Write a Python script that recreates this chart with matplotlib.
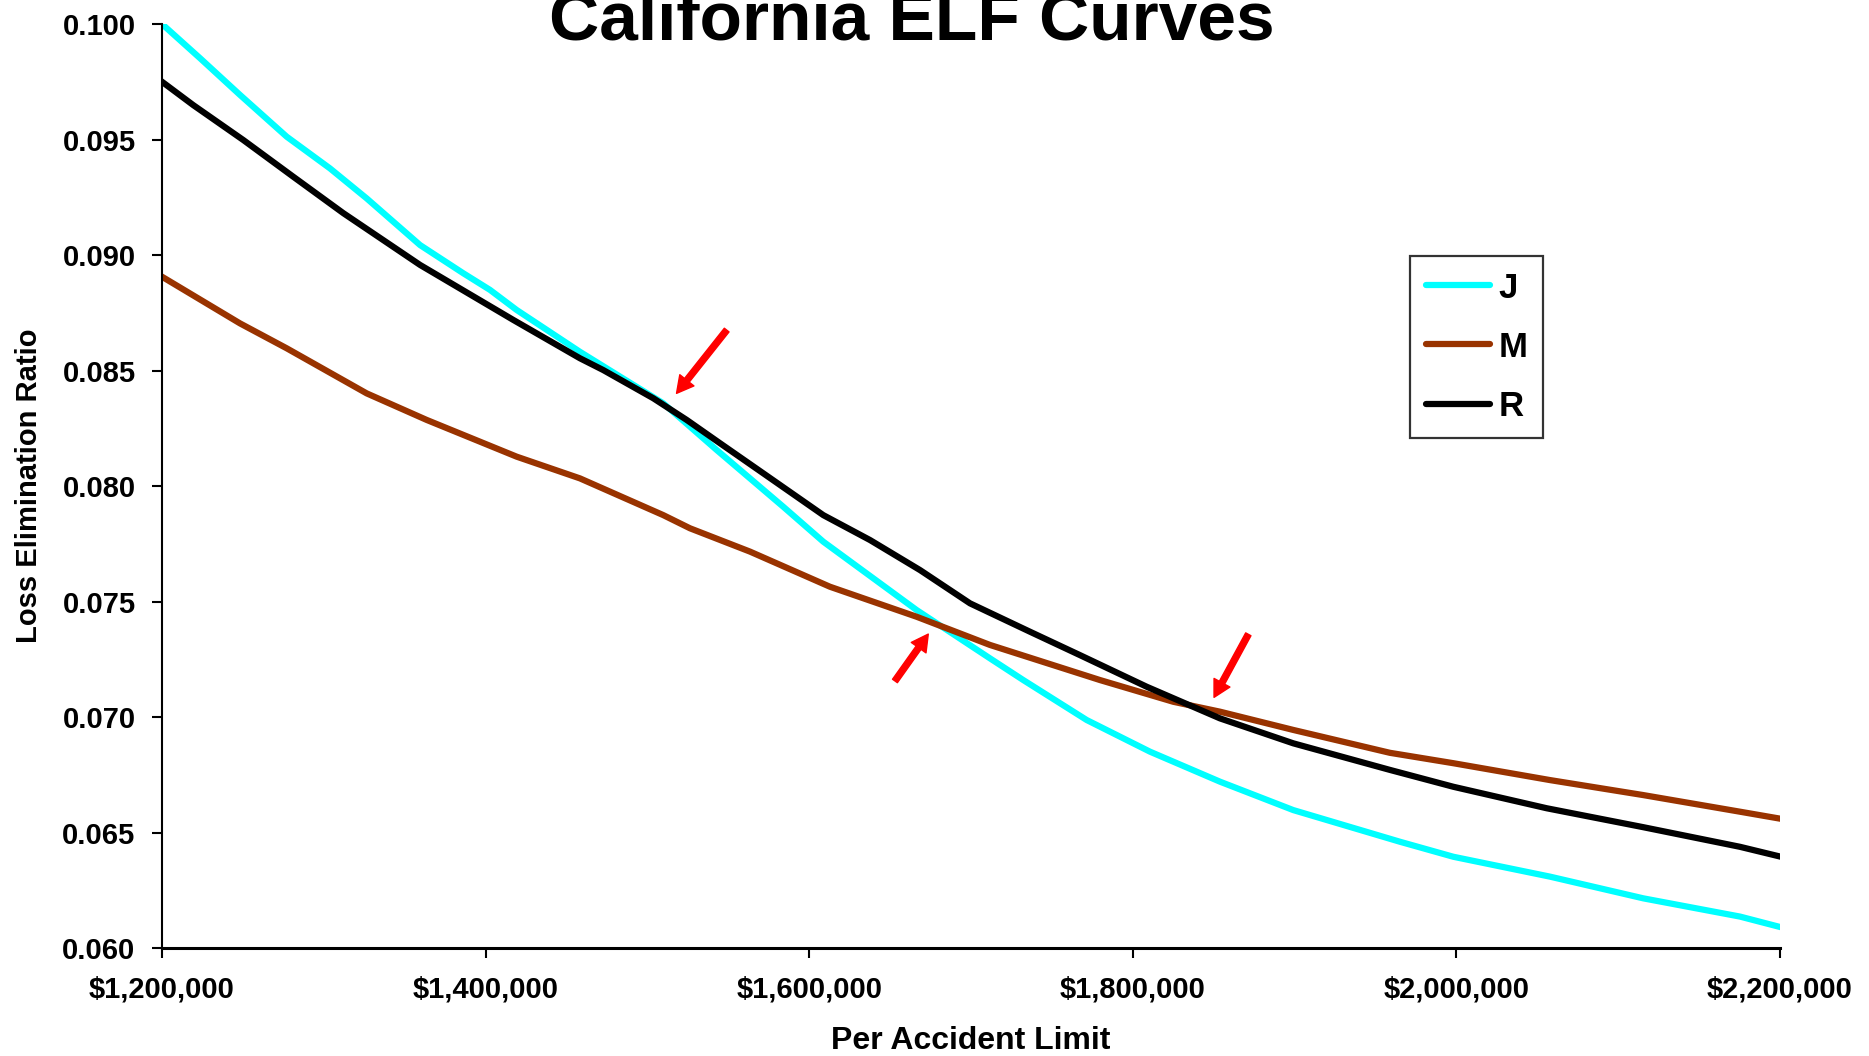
import numpy as np
import matplotlib
matplotlib.use("Agg")
import matplotlib.pyplot as plt
from matplotlib.ticker import FuncFormatter, MultipleLocator

plt.rcParams['font.family'] = ['Liberation Sans', 'DejaVu Sans']
plt.rcParams['font.weight'] = 'bold'

# per accident limits and loss elimination ratios for each curve
limits_j = [1200000, 1223500, 1248200, 1277100, 1303800, 1326500, 1359500, 1386200,
            1402700, 1419200, 1458300, 1509800, 1542800, 1584000, 1608700, 1666400,
            1711700, 1732300, 1771500, 1810600, 1853900, 1899200, 1965100, 1998100,
            2057800, 2115500, 2175300, 2200000]
ler_j = [0.1000, 0.09852, 0.09693, 0.09512, 0.09375, 0.09245, 0.09043, 0.08921,
         0.08849, 0.08762, 0.08581, 0.08358, 0.08156, 0.07910, 0.07759, 0.07463,
         0.07254, 0.07160, 0.06987, 0.06850, 0.06720, 0.06597, 0.06460, 0.06395,
         0.06309, 0.06215, 0.06136, 0.06091]

limits_m = [1200000, 1248200, 1277100, 1326500, 1363600, 1419200, 1458300, 1509800,
            1526300, 1563400, 1612800, 1666400, 1711700, 1779700, 1825000, 1853900,
            1899200, 1958900, 1998100, 2057800, 2115500, 2175300, 2200000]
ler_m = [0.08906, 0.08704, 0.08596, 0.08401, 0.08286, 0.08127, 0.08033, 0.07874,
         0.07817, 0.07716, 0.07564, 0.07434, 0.07312, 0.07160, 0.07066, 0.07023,
         0.06944, 0.06845, 0.06800, 0.06727, 0.06662, 0.06590, 0.06560]

limits_r = [1200000, 1219300, 1250200, 1281100, 1312100, 1359500, 1417100, 1458300,
            1472700, 1503600, 1524300, 1544900, 1571600, 1608700, 1637600, 1668500,
            1699400, 1736500, 1767300, 1808600, 1853900, 1899200, 1958900, 1998100,
            2055800, 2115500, 2175300, 2200000]
ler_r = [0.09750, 0.09649, 0.09498, 0.09339, 0.09181, 0.08957, 0.08719, 0.08553,
         0.08502, 0.08380, 0.08286, 0.08185, 0.08055, 0.07874, 0.07766, 0.07636,
         0.07492, 0.07369, 0.07268, 0.07131, 0.06994, 0.06886, 0.06771, 0.06698,
         0.06605, 0.06523, 0.06438, 0.06396]

# crossing points marked with arrows: (tail, tip)
arrows = [((1549000, 0.08675), (1518000, 0.08401)),
          ((1653000, 0.07156), (1673600, 0.07359)),
          ((1871400, 0.07358), (1850200, 0.07085))]

fig = plt.figure(figsize=(18.69, 10.56), dpi=100)
ax = fig.add_axes([0.08668, 0.10227, 0.86570, 0.875])

ax.plot(limits_j, ler_j, color='#00FFFF', lw=4.5, label='J', solid_joinstyle='round')
ax.plot(limits_m, ler_m, color='#993300', lw=4.5, label='M', solid_joinstyle='round')
ax.plot(limits_r, ler_r, color='black', lw=4.5, label='R', solid_joinstyle='round')

for tail, tip in arrows:
    ax.annotate('', xy=tip, xytext=tail,
                arrowprops=dict(color='#FF0000', width=4.3, headwidth=13,
                                headlength=12, shrink=0))

ax.set_xlim(1200000, 2200000)
ax.set_ylim(0.060, 0.100)
ax.xaxis.set_major_locator(MultipleLocator(200000))
ax.yaxis.set_major_locator(MultipleLocator(0.005))
ax.xaxis.set_major_formatter(FuncFormatter(lambda v, p: '${:,.0f}'.format(v)))
ax.yaxis.set_major_formatter(FuncFormatter(lambda v, p: '%.3f' % v))

for s in ['top', 'right']:
    ax.spines[s].set_visible(False)
ax.spines['left'].set_linewidth(1.5)
ax.spines['bottom'].set_linewidth(2.2)
ax.tick_params(axis='y', direction='out', length=7, width=1.5, labelsize=21, pad=12)
ax.tick_params(axis='x', direction='out', length=7, width=1.5, labelsize=21, pad=13)

ax.set_xlabel('Per Accident Limit', fontsize=23, fontweight='bold', labelpad=16)
ax.set_ylabel('Loss Elimination Ratio', fontsize=21, fontweight='bold', labelpad=14)

fig.text(0.488, 0.9628, 'California ELF Curves', fontsize=50, fontweight='bold',
         ha='center', va='baseline')

leg = ax.legend(loc='upper left', bbox_to_anchor=(0.7544, 0.7576),
                bbox_transform=fig.transFigure, fontsize=25, frameon=True,
                fancybox=False, handlelength=1.85, handletextpad=0.25,
                borderpad=0.45, labelspacing=0.75, borderaxespad=0)
leg.get_frame().set_edgecolor('black')
leg.get_frame().set_linewidth(1.6)
for line in leg.get_lines():
    line.set_solid_capstyle('round')

fig.savefig('out.png', dpi=100)
